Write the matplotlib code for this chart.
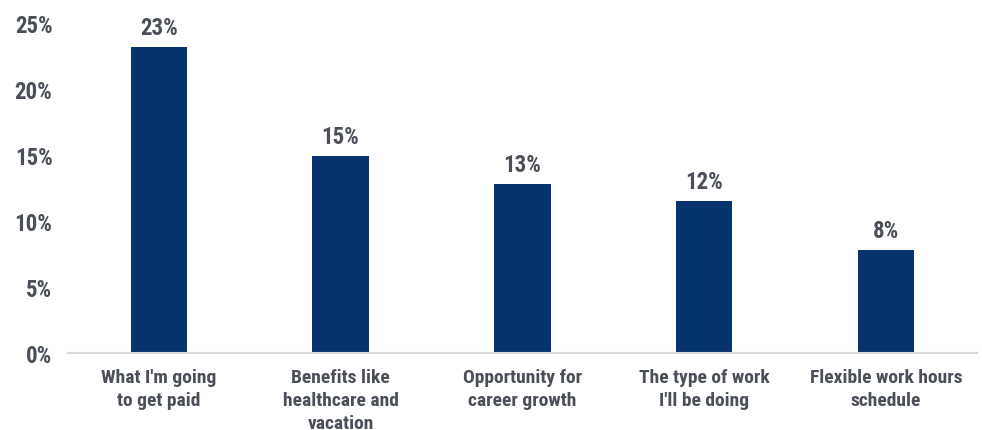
import matplotlib
matplotlib.use("Agg")
import matplotlib.pyplot as plt
from matplotlib.ticker import FuncFormatter

categories = [
    "What I'm going\nto get paid",
    "Benefits like\nhealthcare and\nvacation",
    "Opportunity for\ncareer growth",
    "The type of work\nI'll be doing",
    "Flexible work hours\nschedule",
]
values = [23.2, 14.9, 12.8, 11.5, 7.8]
yticks = [0, 5, 10, 15, 20, 25]

bar_color = "#07346F"
text_color = "#4B4F58"
font = ["Roboto Condensed", "DejaVu Sans"]

fig = plt.figure(figsize=(9.82, 4.31), dpi=100)
ax = fig.add_axes([0.069, 0.179, 0.926, 0.765])

x = list(range(len(categories)))
bars = ax.bar(x, values, width=0.31, color=bar_color, zorder=2)

for rect, v in zip(bars, values):
    ax.annotate(f"{v:.0f}%", (rect.get_x() + rect.get_width() / 2, v),
                xytext=(0, 6), textcoords="offset points",
                ha="center", va="bottom", fontsize=16.5, fontweight="bold",
                fontstretch="condensed", color=text_color, family=font)

ax.set_xlim(-0.5, len(categories) - 0.5)
ax.set_ylim(0, 25)
ax.set_yticks(yticks)
ax.yaxis.set_major_formatter(FuncFormatter(lambda v, p: f"{v:.0f}%"))
ax.set_xticks(x)
ax.set_xticklabels(categories, linespacing=1.35)

for s in ["top", "right", "left"]:
    ax.spines[s].set_visible(False)
ax.spines["bottom"].set_color("#D9D9D9")
ax.spines["bottom"].set_linewidth(1.5)

ax.tick_params(axis="both", length=0, colors=text_color)
ax.tick_params(axis="y", pad=11)
ax.tick_params(axis="x", pad=11)
for lab in ax.get_yticklabels():
    lab.set_fontsize(16.5)
for lab in ax.get_xticklabels():
    lab.set_fontsize(14)
for lab in ax.get_xticklabels() + ax.get_yticklabels():
    lab.set_fontweight("bold")
    lab.set_fontstretch("condensed")
    lab.set_family(font)
    lab.set_color(text_color)

fig.savefig("out.png", dpi=100)
